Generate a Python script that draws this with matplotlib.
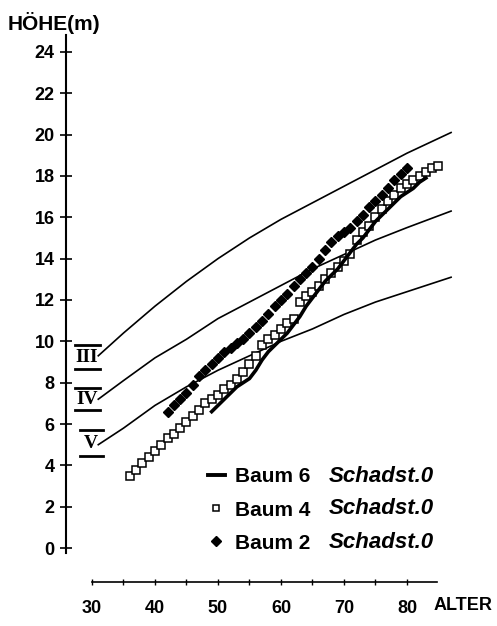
import matplotlib
matplotlib.use('Agg')
import matplotlib.pyplot as plt
from matplotlib.lines import Line2D

plt.rcParams['font.family'] = ['Liberation Sans', 'DejaVu Sans']

# Ertragsklassen (site index curves)
ek_alter = [31, 35, 40, 45, 50, 55, 60, 65, 70, 75, 80, 87]
ek_III = [9.3, 10.4, 11.7, 12.9, 14.0, 15.0, 15.9, 16.7, 17.5, 18.3, 19.1, 20.1]
ek_IV = [7.2, 8.1, 9.2, 10.1, 11.1, 11.9, 12.7, 13.5, 14.2, 14.9, 15.5, 16.3]
ek_V = [5.0, 5.8, 6.9, 7.8, 8.6, 9.3, 10.0, 10.6, 11.3, 11.9, 12.4, 13.1]
ek_labels = ['III', 'IV', 'V']

# Baum 6 (line)
b6_alter = list(range(49, 84))
b6_hoehe = [6.6, 6.9, 7.2, 7.5, 7.8, 8.0, 8.2, 8.6, 9.1, 9.5, 9.8, 10.1, 10.4,
            10.8, 11.2, 11.7, 12.1, 12.5, 12.9, 13.2, 13.5, 13.9, 14.3, 14.7,
            15.0, 15.4, 15.8, 16.1, 16.4, 16.7, 17.0, 17.2, 17.4, 17.7, 17.9]

# Baum 4 (open squares)
b4_alter = list(range(36, 86))
b4_hoehe = [3.5, 3.8, 4.1, 4.4, 4.7, 5.0, 5.3, 5.5, 5.8, 6.1, 6.4, 6.7, 7.0,
            7.2, 7.4, 7.7, 7.9, 8.2, 8.5, 8.9, 9.3, 9.8, 10.1, 10.3, 10.6,
            10.9, 11.1, 11.9, 12.2, 12.4, 12.7, 13.0, 13.3, 13.6, 13.9, 14.2,
            14.9, 15.3, 15.6, 16.0, 16.4, 16.8, 17.1, 17.4, 17.6, 17.8, 18.0,
            18.2, 18.4, 18.5]

# Baum 2 (filled diamonds)
b2_alter = list(range(42, 81))
b2_hoehe = [6.6, 6.9, 7.2, 7.5, 7.9, 8.3, 8.6, 8.9, 9.2, 9.5, 9.7, 9.9, 10.1,
            10.4, 10.7, 11.0, 11.3, 11.7, 12.0, 12.3, 12.7, 13.0, 13.3, 13.6,
            14.0, 14.4, 14.8, 15.1, 15.3, 15.5, 15.8, 16.1, 16.5, 16.8, 17.1,
            17.4, 17.8, 18.1, 18.4]

legend_labels = ['Baum 6', 'Baum 4', 'Baum 2']
schadstufe = 'Schadst.0'

W, H = 497, 626


def fxy(x, y):
    # pixel position -> figure fraction
    return x / W, 1 - y / H


fig = plt.figure(figsize=(W / 100, H / 100), dpi=100)
ax = fig.add_axes([0, 0, 1, 1])
ax.set_xlim(15.4, 94.29)
ax.set_ylim(-3.77, 26.51)

for hh in (ek_III, ek_IV, ek_V):
    ax.plot(ek_alter, hh, color='black', lw=1.2, zorder=2)

ax.plot(b4_alter, b4_hoehe, ls='none', marker='s', ms=5.2, mfc='white',
        mec='black', mew=1.1, zorder=3)
ax.plot(b6_alter, b6_hoehe, color='black', lw=2.6, zorder=4)
ax.plot(b2_alter, b2_hoehe, ls='none', marker='D', ms=4.6, color='black',
        zorder=5)

# axes
for s in ('top', 'right'):
    ax.spines[s].set_visible(False)
ax.spines['left'].set_position(('data', 25.87))
ax.spines['left'].set_bounds(-0.25, 24.8)
ax.spines['left'].set_linewidth(1.5)
ax.spines['bottom'].set_position(('data', -1.64))
ax.spines['bottom'].set_bounds(30, 84.8)
ax.spines['bottom'].set_linewidth(1.2)

ax.set_yticks(range(0, 25, 2))
ax.set_xticks(range(30, 81, 10))
ax.set_xticks(range(35, 81, 10), minor=True)
ax.tick_params(axis='y', direction='inout', length=8, width=1.2, pad=4,
               labelsize=13)
ax.tick_params(axis='x', which='both', direction='inout', length=4, width=1,
               pad=11, labelsize=13)
for lbl in ax.get_xticklabels() + ax.get_yticklabels():
    lbl.set_fontweight('bold')

fig.text(*fxy(8, 23), 'HÖHE(m)', ha='left', va='center', fontsize=15,
         weight='bold')
fig.text(*fxy(493, 606), 'ALTER', ha='right', va='center', fontsize=13,
         weight='bold')

# roman numerals with bars
rom_pos = [(87, 357, 345, 369, 75, 100), (87, 399, 388, 410, 75, 100),
           (91, 443, 430, 456, 80, 103)]
for lab, (cx, cy, yt, yb, x0, x1) in zip(ek_labels, rom_pos):
    fig.text(*fxy(cx, cy), lab, ha='center', va='center', fontsize=14,
             weight='bold', family='Liberation Serif')
    for yy in (yt, yb):
        fig.add_artist(Line2D([x0 / W, x1 / W], [1 - yy / H] * 2,
                              transform=fig.transFigure, color='black', lw=2))

handles = [Line2D([], [], color='black', lw=2.8),
           Line2D([], [], ls='none', marker='s', ms=5, mfc='white',
                  mec='black', mew=1.1),
           Line2D([], [], ls='none', marker='D', ms=4.6, color='black')]
ax.legend(handles, legend_labels, loc='center left',
          bbox_to_anchor=fxy(208, 510), bbox_transform=fig.transFigure,
          frameon=False, prop={'weight': 'bold', 'size': 15},
          handlelength=0.8, handletextpad=0.5, labelspacing=0.68,
          borderpad=0, borderaxespad=0)
for yy in (477, 509, 542):
    fig.text(*fxy(329, yy), schadstufe, ha='left', va='center',
             fontsize=16, weight='bold', style='italic')

fig.savefig('out.png', dpi=100)
